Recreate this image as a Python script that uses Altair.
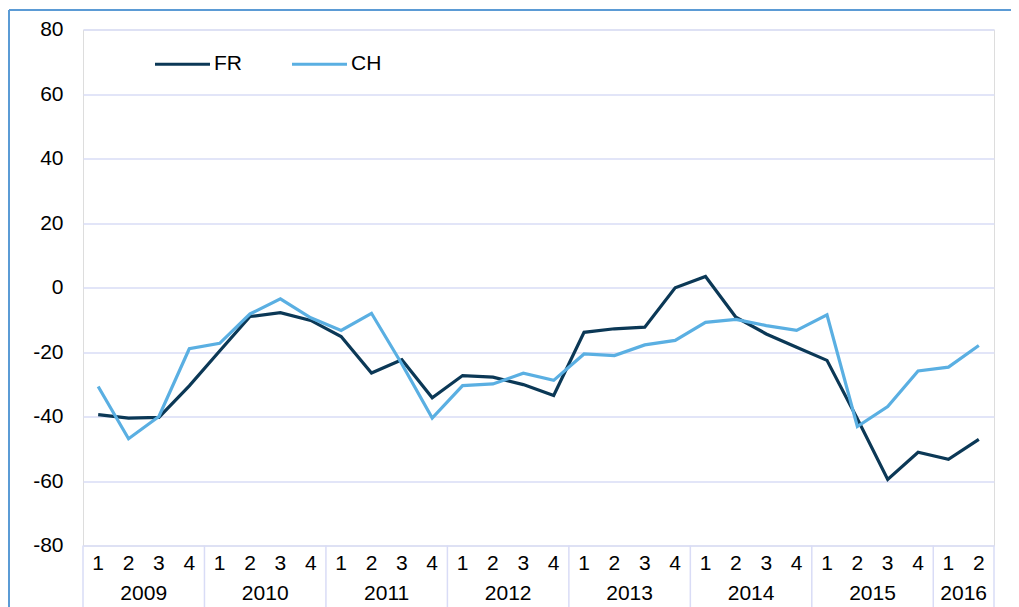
import altair as alt
import pandas as pd

years = ["2009", "2010", "2011", "2012", "2013", "2014", "2015", "2016"]
quarters_per_year = [4, 4, 4, 4, 4, 4, 4, 2]

fr = [-39.4, -40.5, -40.3, -30.5,
      -19.7, -9.0, -7.8, -10.2,
      -15.2, -26.5, -22.4, -34.2,
      -27.3, -27.8, -30.1, -33.5,
      -13.9, -12.8, -12.3, -0.1,
      3.4, -9.2, -14.4, -18.5,
      -22.6, -40.7, -59.5, -51.1,
      -53.3, -47.1]
ch = [-30.7, -46.9, -40.0, -19.0,
      -17.3, -8.2, -3.5, -9.4,
      -13.3, -8.0, -23.7, -40.5,
      -30.4, -29.9, -26.6, -28.8,
      -20.6, -21.1, -17.8, -16.4,
      -10.8, -9.9, -11.8, -13.3,
      -8.5, -43.1, -36.9, -25.9,
      -24.7, -18.0]
series_names = ["FR", "CH"]
series_colors = ["#0b3856", "#5aafe2"]

W, H = 911, 516
FONT = "Liberation Sans"
GRID = "#d9dcf6"

q_rows = []
for y, n in zip(years, quarters_per_year):
    for q in range(n):
        q_rows.append({"i": len(q_rows), "q": str(q + 1)})
df_q = pd.DataFrame(q_rows)

rows = []
for name, vals in zip(series_names, [fr, ch]):
    for i, v in enumerate(vals):
        rows.append({"i": i, "series": name, "value": v})
df = pd.DataFrame(rows)

year_rows = []
bounds = [-0.5]
start = 0
for y, n in zip(years, quarters_per_year):
    year_rows.append({"year": y, "center": start + (n - 1) / 2})
    start += n
    bounds.append(start - 0.5)
df_years = pd.DataFrame(year_rows)
df_bounds = pd.DataFrame({"b": bounds})

xscale = alt.Scale(domain=[-0.5, len(q_rows) - 0.5], nice=False, zero=False)

lines = alt.Chart(df).mark_line(strokeWidth=3.2).encode(
    x=alt.X("i:Q", scale=xscale, axis=None),
    y=alt.Y("value:Q", scale=alt.Scale(domain=[-80, 80], nice=False),
            axis=alt.Axis(values=list(range(-80, 81, 20)), title=None,
                          labelExpr="'' + datum.value",
                          ticks=False, domain=False, gridColor=GRID, gridWidth=1.4,
                          labelFontSize=21, labelFont=FONT, labelColor="#000",
                          labelPadding=20, labelBaseline="middle")),
    color=alt.Color("series:N",
                    scale=alt.Scale(domain=series_names, range=series_colors),
                    sort=series_names,
                    legend=alt.Legend(title=None, orient="none", direction="horizontal",
                                      legendX=70, legendY=5, symbolType="stroke",
                                      symbolSize=3025, symbolStrokeWidth=3.2,
                                      labelFontSize=21, labelFont=FONT, labelColor="#000",
                                      labelOffset=2, columnPadding=43, padding=0)),
    order=alt.Order("i:Q"),
)

quarter_text = alt.Chart(df_q).mark_text(
    fontSize=21, font=FONT, color="#000", baseline="middle", align="center"
).encode(
    x=alt.X("i:Q", scale=xscale, axis=None),
    y=alt.value(H + 18.5),
    text="q:N",
)

year_text = alt.Chart(df_years).mark_text(
    fontSize=21, font=FONT, color="#000", baseline="middle", align="center"
).encode(
    x=alt.X("center:Q", scale=xscale, axis=None),
    y=alt.value(H + 48),
    text="year:N",
)

seps = alt.Chart(df_bounds).mark_rule(color=GRID, strokeWidth=1.5).encode(
    x=alt.X("b:Q", scale=xscale, axis=None),
    y=alt.value(H),
    y2=alt.value(H + 80),
)

frame_top = alt.Chart(df_years).mark_rule(color="#5b9bd5", strokeWidth=1.5).encode(
    x=alt.value(-74), x2=alt.value(W + 40), y=alt.value(-19.5)
)
frame_left = alt.Chart(df_years).mark_rule(color="#5b9bd5", strokeWidth=1.5).encode(
    x=alt.value(-74), y=alt.value(-19.5), y2=alt.value(H + 80)
)

chart = alt.layer(seps, quarter_text, year_text, lines, frame_top, frame_left).properties(
    width=W, height=H,
    autosize=alt.AutoSizeParams(type="none"),
    padding={"left": 75, "top": 21.5, "right": 17, "bottom": 62},
).configure_view(stroke=None).configure(background="white")

chart.save("out.html", embed_options={"renderer": "svg", "actions": False})
